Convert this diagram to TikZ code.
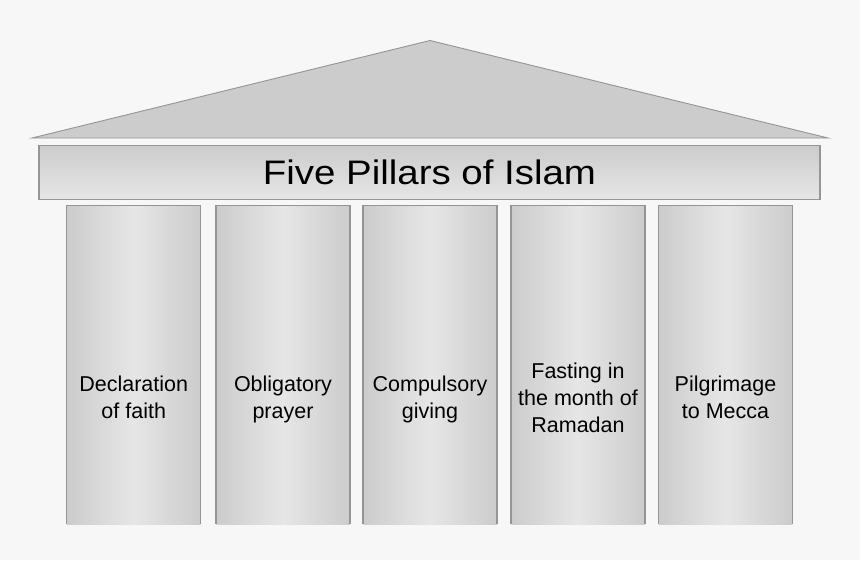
\documentclass[tikz,border=0pt]{standalone}
\usepackage{fontspec}
\setmainfont{Liberation Sans}
\definecolor{bg}{HTML}{F7F7F7}
\definecolor{edge}{HTML}{959595}
\definecolor{dark}{HTML}{CCCCCC}
\definecolor{light}{HTML}{E6E6E6}
\tikzset{
  roofshape/.style={fill=dark, draw=edge, line width=0.9pt, line join=miter},
  beambox/.style={draw=edge, line width=1.1pt, top color=dark, bottom color=light,
    minimum width=781pt, minimum height=53.5pt, inner sep=0pt,
    font=\fontsize{34}{40}\selectfont},
  pillarbox/.style={left color=dark, right color=dark, middle color=light,
    minimum width=133.5pt, minimum height=318pt, inner sep=0pt},
  pillaredge/.style={draw=edge, line width=1.3pt},
  plabel/.style={align=center, inner sep=0pt, text=black,
    font=\fontsize{21.5}{27}\selectfont}
}
\begin{document}
\begin{tikzpicture}[x=1pt,y=-1pt]
\useasboundingbox[fill=bg] (0,0) rectangle (860,560);
% roof
\coordinate (rl) at (32,138);
\coordinate (apex) at (430,40.5);
\coordinate (rr) at (828,138);
\draw[roofshape] (rl) -- (apex) -- (rr) -- cycle;
% beam
\node[beambox] (beam) at (429.5,172.5) {\scalebox{1.13}[1]{Five Pillars of Islam}};
% pillars
\foreach \i/\x in {1/133.75, 2/283, 3/430, 4/578, 5/725.5}{
  \node[pillarbox] (p\i) at (\x,365) {};
  \draw[pillaredge] (p\i.south west) -- (p\i.north west) -- (p\i.north east) -- (p\i.south east);
}
\node[plabel] (t1) at (p1.center |- 0,400) {\strut Declaration\\\strut of faith};
\node[plabel] (t2) at (p2.center |- 0,400) {\strut Obligatory\\\strut prayer};
\node[plabel] (t3) at (p3.center |- 0,400) {\strut Compulsory\\\strut giving};
\node[plabel] (t4) at (p4.center |- 0,400) {\strut Fasting in\\\strut the month of\\\strut Ramadan};
\node[plabel] (t5) at (p5.center |- 0,400) {\strut Pilgrimage\\\strut to Mecca};
\end{tikzpicture}
\end{document}
